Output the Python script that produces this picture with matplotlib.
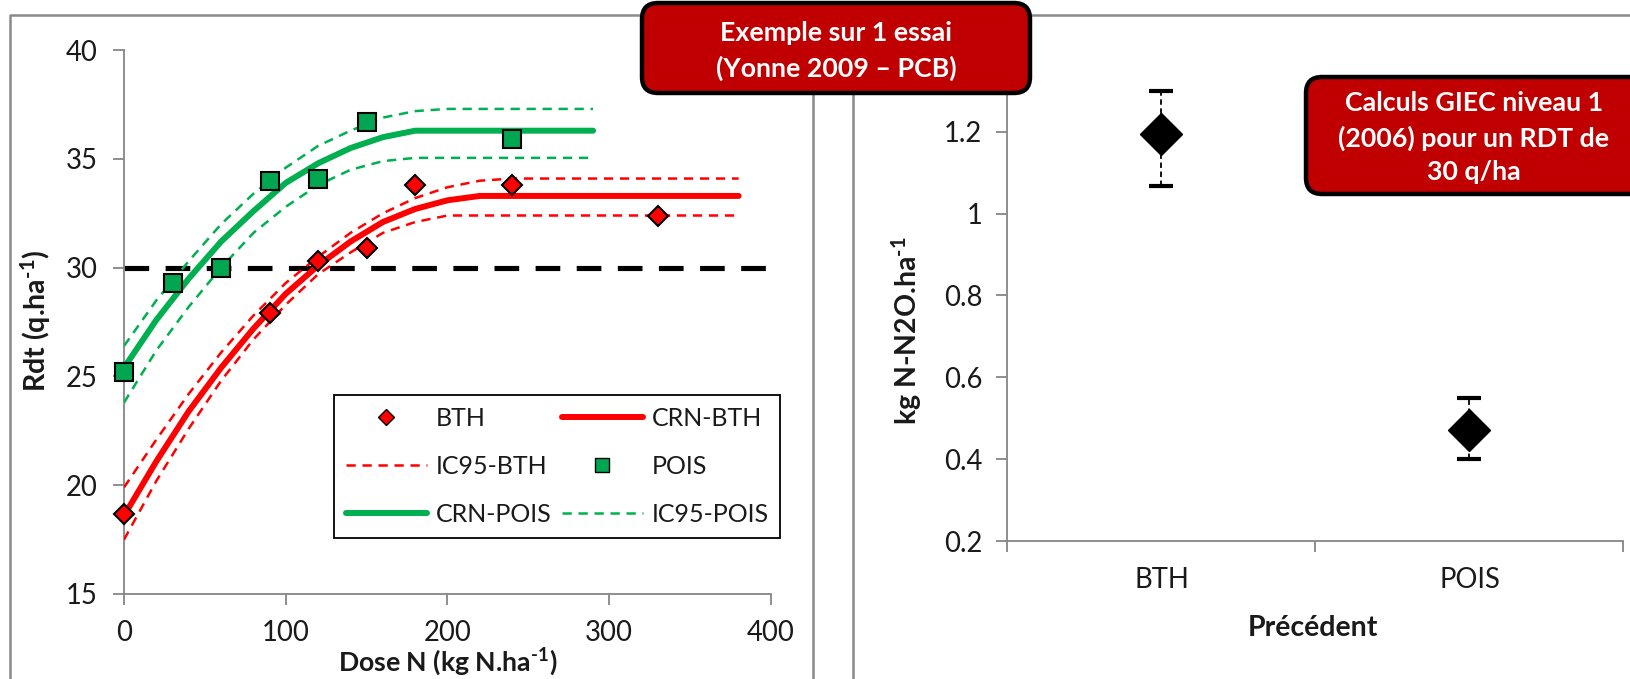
import matplotlib
matplotlib.use('Agg')
import matplotlib.pyplot as plt
from matplotlib.lines import Line2D
from matplotlib.patches import FancyBboxPatch
from matplotlib.transforms import IdentityTransform
import matplotlib.ticker as mticker

plt.rcParams['font.family'] = ['Lato', 'DejaVu Sans']
plt.rcParams['mathtext.fontset'] = 'custom'
plt.rcParams['mathtext.rm'] = 'Lato:bold'
plt.rcParams['mathtext.bf'] = 'Lato:bold'
plt.rcParams['mathtext.it'] = 'Lato:italic'

# ---------------- data (left panel) ----------------
bth_dose = [0, 90, 120, 150, 180, 240, 330]
bth_rdt = [18.7, 27.9, 30.3, 30.9, 33.8, 33.8, 32.4]
pois_dose = [0, 30, 60, 90, 120, 150, 240]
pois_rdt = [25.2, 29.3, 30.0, 34.0, 34.1, 36.7, 35.9]

crn_bth_x = [0, 20, 40, 60, 80, 100, 120, 140, 160, 180, 200, 220, 380]
crn_bth_y = [18.6, 21.1, 23.4, 25.4, 27.2, 28.8, 30.1, 31.2, 32.1, 32.7, 33.1, 33.3, 33.3]
ic_bth_hi_x = [0, 20, 40, 60, 80, 100, 120, 140, 160, 180, 200, 220, 240, 380]
ic_bth_hi_y = [19.9, 22.1, 24.2, 26.1, 27.8, 29.3, 30.5, 31.6, 32.5, 33.2, 33.7, 34.0, 34.1, 34.1]
ic_bth_lo_x = [0, 20, 40, 60, 80, 100, 120, 140, 160, 180, 200, 210, 380]
ic_bth_lo_y = [17.5, 20.2, 22.6, 24.8, 26.7, 28.3, 29.7, 30.7, 31.6, 32.1, 32.4, 32.4, 32.4]

crn_pois_x = [0, 20, 40, 60, 80, 100, 120, 140, 160, 180, 190, 290]
crn_pois_y = [25.4, 27.6, 29.5, 31.2, 32.6, 33.9, 34.8, 35.5, 36.0, 36.3, 36.3, 36.3]
ic_pois_hi_x = [0, 20, 40, 60, 80, 100, 120, 140, 160, 180, 200, 290]
ic_pois_hi_y = [26.4, 28.5, 30.3, 32.0, 33.4, 34.6, 35.6, 36.3, 36.9, 37.2, 37.3, 37.3]
ic_pois_lo_x = [0, 20, 40, 60, 80, 100, 120, 140, 160, 180, 290]
ic_pois_lo_y = [23.8, 26.2, 28.2, 30.0, 31.6, 32.8, 33.8, 34.5, 34.9, 35.05, 35.05]

thresh_x = [0, 400]
thresh_y = [30, 30]

left_xticks = [0, 100, 200, 300, 400]
left_yticks = [15, 20, 25, 30, 35, 40]

# ---------------- data (right panel) ----------------
precedents = ['BTH', 'POIS']
n2o = [1.195, 0.471]
n2o_low = [1.068, 0.400]
n2o_high = [1.300, 0.549]
right_yticks = [0.2, 0.4, 0.6, 0.8, 1.0, 1.2]

# ---------------- figure ----------------
W, H = 1631, 679
fig = plt.figure(figsize=(W / 100, H / 100), dpi=100)
fig.patch.set_facecolor('white')

RED = '#FF0000'
GREEN = '#00B050'
SQ_GREEN = '#00A650'
SPINE = '#868686'
TXT = '#1a1a1a'
TICK_FS = 19.8
LAB_FS = 20.5

ax1 = fig.add_axes([124 / W, 1 - 594 / H, 647 / W, 543.8 / H])
ax2 = fig.add_axes([1007.5 / W, 1 - 541 / H, 616 / W, 491.2 / H])

for ax in (ax1, ax2):
    for s in ('top', 'right'):
        ax.spines[s].set_visible(False)
    for s in ('left', 'bottom'):
        ax.spines[s].set_color(SPINE)
        ax.spines[s].set_linewidth(1.3)

# ---- left panel ----
ax1.plot(thresh_x, thresh_y, color='black', lw=3.7, dashes=(4.8, 3.2), zorder=2)
ax1.plot(ic_bth_hi_x, ic_bth_hi_y, color=RED, lw=1.8, dashes=(3.7, 2.7), zorder=3)
ax1.plot(ic_bth_lo_x, ic_bth_lo_y, color=RED, lw=1.8, dashes=(3.7, 2.7), zorder=3)
ax1.plot(crn_bth_x, crn_bth_y, color=RED, lw=4.3, solid_capstyle='round', zorder=3)
ax1.plot(ic_pois_hi_x, ic_pois_hi_y, color=GREEN, lw=1.8, dashes=(3.7, 2.7), zorder=3)
ax1.plot(ic_pois_lo_x, ic_pois_lo_y, color=GREEN, lw=1.8, dashes=(3.7, 2.7), zorder=3)
ax1.plot(crn_pois_x, crn_pois_y, color=GREEN, lw=4.3, solid_capstyle='round', zorder=3)
ax1.plot(bth_dose, bth_rdt, linestyle='none', marker='D', ms=10.5, mfc=RED, mec='black',
         mew=1.5, zorder=5, clip_on=False)
ax1.plot(pois_dose, pois_rdt, linestyle='none', marker='s', ms=13, mfc=SQ_GREEN, mec='black',
         mew=1.5, zorder=5, clip_on=False)

ax1.set_xlim(0, 400)
ax1.set_ylim(15, 40)
ax1.set_xticks(left_xticks)
ax1.set_yticks(left_yticks)
ax1.tick_params(axis='both', direction='out', length=8, width=1.3, color=SPINE,
                labelsize=TICK_FS, labelcolor=TXT)
ax1.tick_params(axis='y', pad=11)
ax1.tick_params(axis='x', pad=11)
ax1.set_xlabel(r'Dose N (kg N.ha$^{\text{-1}}$)', fontsize=19.2, fontweight='bold', color=TXT)
ax1.set_ylabel(r'Rdt (q.ha$^{\text{-1}}$)', fontsize=LAB_FS, fontweight='bold', color=TXT)
ax1.xaxis.set_label_coords(0.5008, -0.125)
ax1.xaxis.label.set_va('center')
ax1.yaxis.set_label_coords(-0.136, 0.502)
ax1.yaxis.label.set_va('center')

# legend (row order BTH, CRN-BTH / IC95-BTH, POIS / CRN-POIS, IC95-POIS)
h_bth = Line2D([], [], linestyle='none', marker='D', ms=8, mfc=RED, mec='black', mew=1.0)
h_pois = Line2D([], [], linestyle='none', marker='s', ms=10.5, mfc=SQ_GREEN, mec='black', mew=1.0)
h_crn_bth = Line2D([], [], color=RED, lw=4.3, solid_capstyle='round')
h_crn_pois = Line2D([], [], color=GREEN, lw=4.3, solid_capstyle='round')
h_ic_bth = Line2D([], [], color=RED, lw=1.8, dashes=(3.7, 2.7))
h_ic_pois = Line2D([], [], color=GREEN, lw=1.8, dashes=(3.7, 2.7))
handles = [h_bth, h_ic_bth, h_crn_pois, h_crn_bth, h_pois, h_ic_pois]
labels = ['BTH', 'IC95-BTH', 'CRN-POIS', 'CRN-BTH', 'POIS', 'IC95-POIS']
leg = ax1.legend(handles, labels, ncol=2, loc='upper left',
                 bbox_to_anchor=(334 / W, 1 - 395 / H), bbox_transform=fig.transFigure,
                 fontsize=18, frameon=True, fancybox=False, edgecolor='black', framealpha=1,
                 borderaxespad=0, borderpad=0.47, handlelength=3.25, handletextpad=0.35,
                 columnspacing=0.4, labelspacing=1.0, numpoints=1)
leg.get_frame().set_linewidth(1.3)
for t in leg.get_texts():
    t.set_color(TXT)
leg.set_zorder(6)

# ---- right panel ----
xpos = [1, 2]
yerr = [[v - lo for v, lo in zip(n2o, n2o_low)], [hi - v for v, hi in zip(n2o, n2o_high)]]
eb = ax2.errorbar(xpos, n2o, yerr=yerr, fmt='D', ms=21, mfc='black', mec='black',
                  ecolor='black', elinewidth=1.3, capsize=8.3, capthick=3, zorder=5)
eb[2][0].set_linestyle((0, (3, 2)))
ax2.set_xlim(0.5, 2.5)
ax2.set_ylim(0.2, 1.4)
ax2.set_yticks(right_yticks)
ax2.yaxis.set_major_formatter(mticker.FormatStrFormatter('%g'))
ax2.set_xticks([0.5, 1.5, 2.5])
ax2.set_xticklabels([])
ax2.set_xticks(xpos, minor=True)
ax2.set_xticklabels(precedents, minor=True)
ax2.tick_params(axis='both', which='major', direction='out', length=8, width=1.3, color=SPINE,
                labelsize=TICK_FS, labelcolor=TXT)
ax2.tick_params(axis='y', pad=10)
ax2.tick_params(axis='x', which='minor', length=0, pad=19, labelsize=TICK_FS, labelcolor=TXT)
ax2.set_xlabel('Précédent', fontsize=LAB_FS, fontweight='bold', color=TXT)
ax2.set_ylabel(r'kg N-N2O.ha$^{\text{-1}}$', fontsize=LAB_FS, fontweight='bold', color=TXT)
ax2.xaxis.set_label_coords(0.496, -0.177)
ax2.xaxis.label.set_va('center')
ax2.yaxis.set_label_coords(-0.164, 0.4275)
ax2.yaxis.label.set_va('center')

# ---- panel borders ----
def px_line(xs, ys_top, **kw):
    ln = Line2D([x / W for x in xs], [1 - y / H for y in ys_top], transform=fig.transFigure, **kw)
    fig.add_artist(ln)

px_line([10, 10, 813, 813], [700, 15, 15, 700], color='#8a8a8a', lw=1.8)
px_line([853, 853, 1650], [700, 15, 15], color='#8a8a8a', lw=1.8)

# ---- annotation boxes ----
def red_box(x0, y_top, x1, y_bot):
    p = FancyBboxPatch((x0, H - y_bot), x1 - x0, y_bot - y_top,
                       boxstyle='round,pad=0,rounding_size=16',
                       transform=IdentityTransform(), facecolor='#C00000',
                       edgecolor='black', linewidth=3.2, zorder=20)
    fig.add_artist(p)

red_box(642, 3, 1030, 93)
red_box(1306, 77, 1680, 194)

def box_text(x, y_base, s):
    fig.text(x / W, 1 - y_base / H, s, ha='center', va='baseline', color='white',
             fontsize=19.3, fontweight='bold', zorder=21)

box_text(836, 41, 'Exemple sur 1 essai')
box_text(836, 77, '(Yonne 2009 – PCB)')
box_text(1474, 111, 'Calculs GIEC niveau 1')
box_text(1474, 147, '(2006) pour un RDT de')
box_text(1474, 180, '30 q/ha')

fig.savefig('out.png', dpi=100, facecolor='white')
